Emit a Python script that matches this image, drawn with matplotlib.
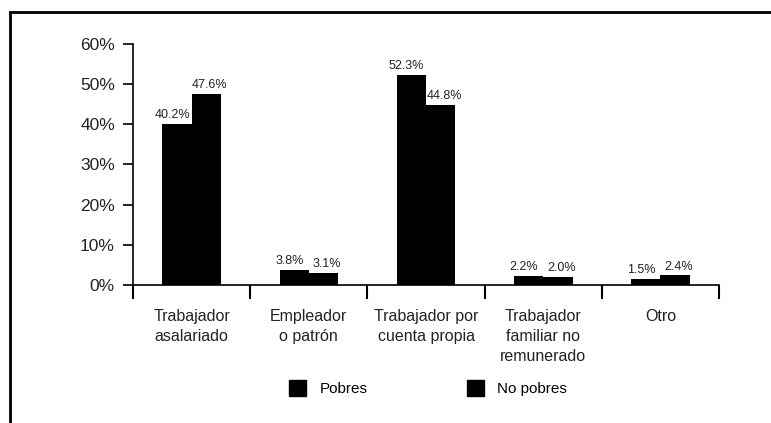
import matplotlib.pyplot as plt
from matplotlib.lines import Line2D
from matplotlib.patches import Patch
import numpy as np

categorias = ["Trabajador\nasalariado", "Empleador\no patrón", "Trabajador por\ncuenta propia",
              "Trabajador\nfamiliar no\nremunerado", "Otro"]
pobres = [40.2, 3.8, 52.3, 2.2, 1.5]
no_pobres = [47.6, 3.1, 44.8, 2.0, 2.4]
series = ["Pobres", "No pobres"]
yticks = [0, 10, 20, 30, 40, 50, 60]

plt.rcParams['font.family'] = ['Liberation Sans', 'DejaVu Sans']

fig = plt.figure(figsize=(7.71, 4.23), dpi=100)
ax = fig.add_axes([133/771, 1-285/423, (719-133)/771, (285-44)/423])

x = np.arange(len(categorias))
w = 0.25
b1 = ax.bar(x - w/2, pobres, w, color='black')
b2 = ax.bar(x + w/2, no_pobres, w, color='black')

for rect, v in zip(b1, pobres):
    ax.annotate(f"{v:.1f}%", (rect.get_x() + rect.get_width()/2 - 0.04, v),
                xytext=(0, 2), textcoords='offset points', ha='center', va='bottom',
                fontsize=9, color='#222222')
for rect, v in zip(b2, no_pobres):
    ax.annotate(f"{v:.1f}%", (rect.get_x() + rect.get_width()/2 + 0.03, v),
                xytext=(0, 2), textcoords='offset points', ha='center', va='bottom',
                fontsize=9, color='#222222')

ax.set_xlim(-0.5, len(categorias) - 0.5)
ax.set_ylim(0, 60)
ax.set_yticks(yticks)
ax.set_yticklabels([f"{t}%" for t in yticks], fontsize=12.5, color='#222222')
ax.tick_params(axis='y', length=7, width=1.2, direction='out', pad=6)

ax.set_xticks(x)
ax.set_xticklabels(categorias, fontsize=11.5, color='#222222', va='top', linespacing=1.45)
ax.tick_params(axis='x', which='major', length=0, pad=17)
ax.set_xticks(np.arange(len(categorias) + 1) - 0.5, minor=True)
ax.tick_params(axis='x', which='minor', length=10, width=1.5, direction='out')

for s in ['top', 'right']:
    ax.spines[s].set_visible(False)
ax.spines['left'].set_linewidth(1.2)
ax.spines['bottom'].set_linewidth(1.2)

handles = [Patch(color='black'), Patch(color='black')]
fig.legend(handles, series, loc='center', bbox_to_anchor=(428/771, 1-388/423), ncol=2,
           frameon=False, fontsize=11, handlelength=1.1, handleheight=1.2,
           columnspacing=6.5, handletextpad=0.9)

# borde escaneado
fig.add_artist(Line2D([10/771, 10/771], [0, 1-12/423], color='black', lw=2))
fig.add_artist(Line2D([10/771, 1], [1-12/423, 1-12/423], color='black', lw=2))

fig.savefig("out.png", dpi=100)
